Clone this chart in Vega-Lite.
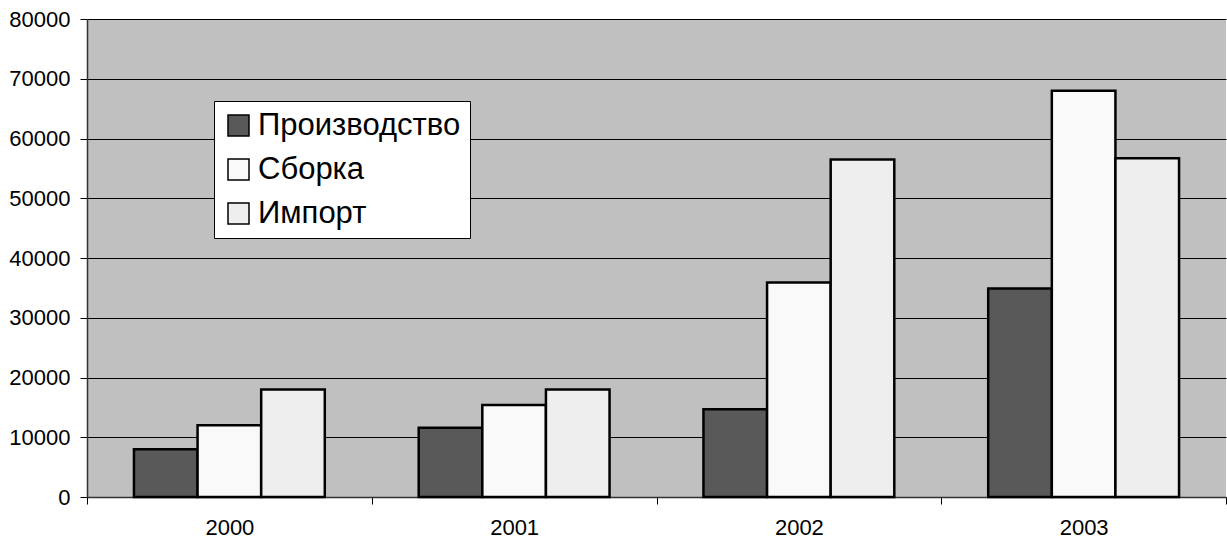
{
  "$schema": "https://vega.github.io/schema/vega-lite/v6.json",
  "width": 1139,
  "height": 478,
  "autosize": {"type": "none"},
  "padding": {"left": 87, "top": 19, "right": 1, "bottom": 46},
  "background": "white",
  "config": {
    "view": {"fill": "#C0C0C0", "stroke": null},
    "font": "Liberation Sans"
  },
  "data": {
    "values": [
      {"year": "2000", "series": "Производство", "value": 8000},
      {"year": "2000", "series": "Сборка", "value": 12000},
      {"year": "2000", "series": "Импорт", "value": 18000},
      {"year": "2001", "series": "Производство", "value": 11600},
      {"year": "2001", "series": "Сборка", "value": 15400},
      {"year": "2001", "series": "Импорт", "value": 18000},
      {"year": "2002", "series": "Производство", "value": 14700},
      {"year": "2002", "series": "Сборка", "value": 35900},
      {"year": "2002", "series": "Импорт", "value": 56500},
      {"year": "2003", "series": "Производство", "value": 34900},
      {"year": "2003", "series": "Сборка", "value": 68000},
      {"year": "2003", "series": "Импорт", "value": 56700}
    ]
  },
  "mark": {"type": "bar", "stroke": "black", "strokeWidth": 2.5},
  "encoding": {
    "x": {
      "field": "year",
      "type": "nominal",
      "scale": {"paddingInner": 0, "paddingOuter": 0},
      "axis": {
        "title": null,
        "labelAngle": 0,
        "tickBand": "extent",
        "tickSize": 7,
        "tickColor": "black",
        "domainColor": "#333333",
        "domainWidth": 1.5,
        "labelFontSize": 22,
        "labelColor": "black",
        "labelPadding": 13,
        "grid": false
      }
    },
    "xOffset": {
      "field": "series",
      "sort": ["Производство", "Сборка", "Импорт"],
      "scale": {"paddingInner": 0, "paddingOuter": 0.738}
    },
    "y": {
      "field": "value",
      "type": "quantitative",
      "scale": {"domain": [0, 80000], "nice": false},
      "axis": {
        "title": null,
        "values": [0, 10000, 20000, 30000, 40000, 50000, 60000, 70000, 80000],
        "format": "d",
        "tickSize": 7,
        "tickColor": "black",
        "domainColor": "#333333",
        "domainWidth": 1.5,
        "labelFontSize": 22,
        "labelColor": "black",
        "labelPadding": 10,
        "grid": true,
        "gridColor": "black",
        "gridOpacity": 1,
        "gridWidth": 1
      }
    },
    "color": {
      "field": "series",
      "type": "nominal",
      "sort": ["Производство", "Сборка", "Импорт"],
      "scale": {
        "domain": ["Производство", "Сборка", "Импорт"],
        "range": ["#595959", "#F9F9F9", "#EEEEEE"]
      },
      "legend": {
        "title": null,
        "orient": "none",
        "legendX": 127,
        "legendY": 82,
        "fillColor": "white",
        "strokeColor": "black",
        "padding": 9,
        "symbolType": "square",
        "symbolSize": 441,
        "symbolStrokeColor": "black",
        "symbolStrokeWidth": 1.5,
        "symbolOpacity": 1,
        "labelFontSize": 31,
        "labelColor": "black",
        "labelOffset": 4,
        "rowPadding": 12,
        "labelLimit": 400
      }
    }
  }
}
